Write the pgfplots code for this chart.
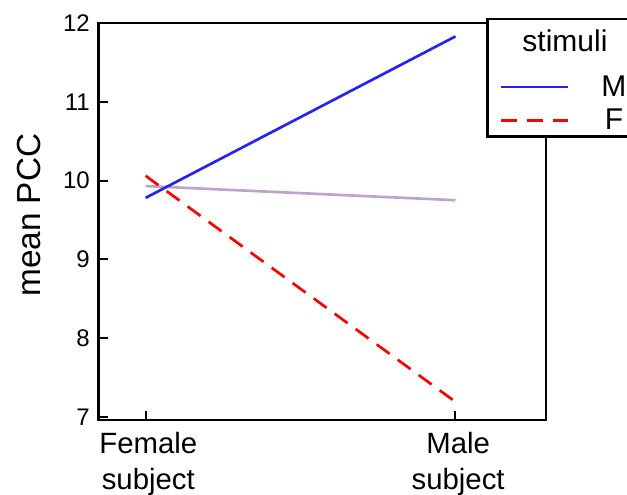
\documentclass[border=0pt]{standalone}
\usepackage{pgfplots}
\pgfplotsset{compat=1.18}
\usepackage{fontspec}
\setmainfont{Liberation Sans}
\definecolor{mblue}{RGB}{35,35,245}
\definecolor{fred}{RGB}{255,0,0}
\definecolor{purp}{RGB}{190,162,200}
\begin{document}
\begin{tikzpicture}
\begin{axis}[
  at={(73.875pt,56.25pt)}, anchor=south west,
  scale only axis, width=335.6pt, height=297.75pt,
  xmin=0.848, xmax=2.292, ymin=6.96, ymax=12.0,
  xtick={1,2}, xticklabels={{Female\\subject},{Male\\subject}},
  ytick={7,8,9,10,11,12},
  tick align=inside, major tick length=6.75pt,
  xtick pos=bottom, ytick pos=left,
  separate axis lines,
  every outer x axis line/.append style={line width=2.2pt, line cap=rect},
  every outer y axis line/.append style={line width=2.2pt, line cap=rect},
  every tick/.style={black, line width=1.5pt},
  /pgf/number format/assume math mode=true,
  yticklabel style={font=\fontsize{18}{21}\selectfont, xshift=-3pt},
  xticklabel style={align=center, font=\fontsize{22}{26.5}\selectfont, yshift=-6pt, xshift=2pt},
  ylabel={mean PCC},
  ylabel style={font=\fontsize{25}{30}\selectfont, at={(axis description cs:-0.155,0.516)}, anchor=center},
  clip=false,
  legend style={at={(rel axis cs:0.897,0.875)}, anchor=north west, draw=none, fill=none,
    inner sep=0pt, font=\fontsize{22.5}{27}\selectfont, row sep=4pt, column sep=22pt},
  legend image code/.code={\draw[#1] (0pt,0pt) -- (50pt,0pt);},
]
\addplot[purp, line width=2pt, forget plot] coordinates {(1,9.93) (2,9.75)};
\addplot[mblue, line width=2pt] coordinates {(1,9.78) (2,11.83)};
\addlegendentry{M}
\addplot[fred, line width=2pt, dash pattern=on 12pt off 7.5pt] coordinates {(1,10.06) (2,7.19)};
\addlegendentry{F}
\draw[line width=2.2pt, fill=white] (rel axis cs:0.870,1.010) rectangle (rel axis cs:1.255,0.715);
\node[font=\fontsize{22.5}{27}\selectfont] at (rel axis cs:1.0425,0.955) {stimuli};
\end{axis}
\pgfresetboundingbox
\path[use as bounding box] (0,0) rectangle (470.25pt,371.25pt);
\end{tikzpicture}
\end{document}
